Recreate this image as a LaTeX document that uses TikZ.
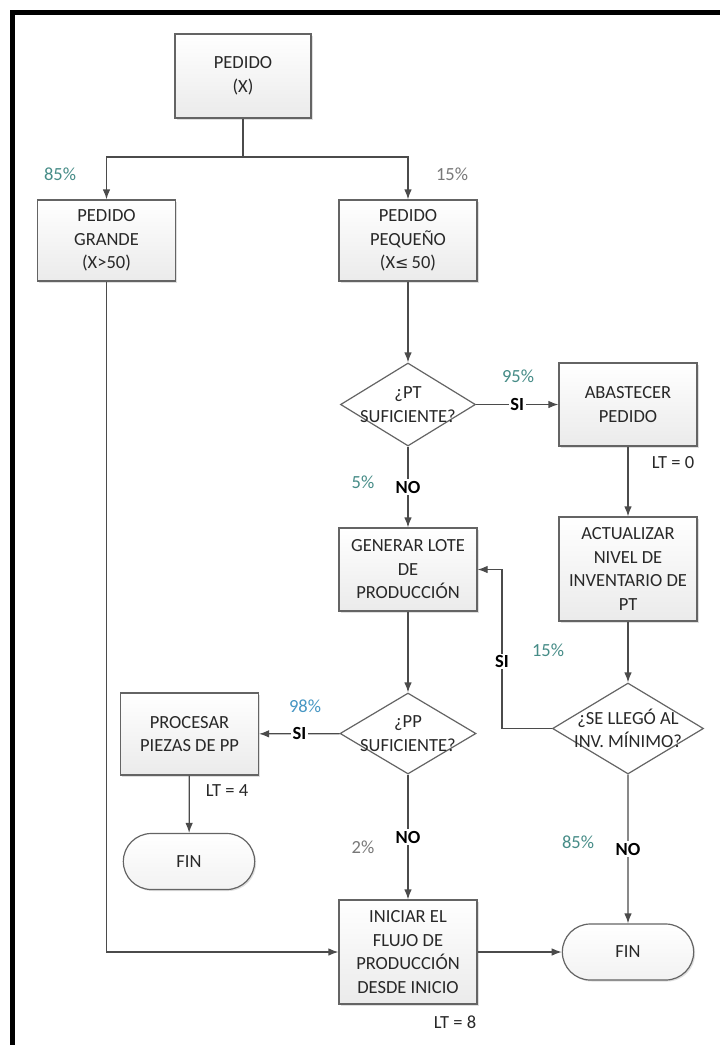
\documentclass[tikz,border=0pt]{standalone}
\usepackage{fontspec}
\setmainfont{Carlito}
\newfontfamily\symf{DejaVu Sans}
\usetikzlibrary{shapes.geometric,shapes.misc,arrows.meta,shadows}
\definecolor{ln}{RGB}{75,75,75}
\definecolor{bd}{RGB}{100,100,100}
\definecolor{tx}{RGB}{40,40,40}
\definecolor{pct}{RGB}{70,140,135}
\definecolor{pctg}{RGB}{120,120,120}
\definecolor{pctb}{RGB}{70,150,195}
\newcommand{\mfont}{\fontsize{18.5}{23.5}\selectfont}
\begin{document}
\begin{tikzpicture}[x=1pt,y=-1pt,
  box/.style={draw=bd, line width=1.2pt, top color=white, bottom color=gray!16,
    minimum width=138, minimum height=83, align=center, text=tx, font=\mfont,
    inner sep=2pt, drop shadow={shadow xshift=1.5pt, shadow yshift=-1.5pt, opacity=0.25}},
  dia/.style={diamond, draw=bd, line width=1.2pt, fill=white, inner sep=0pt},
  dtxt/.style={align=center, text=tx, font=\mfont, inner sep=0pt},
  term/.style={rounded rectangle, draw=bd, line width=1.2pt, top color=white, bottom color=gray!10,
    minimum width=138, minimum height=56, text=tx, font=\mfont,
    drop shadow={shadow xshift=1.5pt, shadow yshift=-1.5pt, opacity=0.25}},
  con/.style={draw=ln, line width=1.2pt},
  arr/.style={draw=ln, line width=1.2pt, -{Latex[length=10pt,width=7.5pt]}},
  lbl/.style={font=\mfont\bfseries, fill=white, inner sep=1.5pt, text=black},
  pctl/.style={font=\mfont, inner sep=0pt},
  ltl/.style={font=\mfont, text=tx, inner sep=0pt}]
\useasboundingbox (0,0) rectangle (720,1045);
\fill[white] (0,0) rectangle (720,1045);
\draw[line width=5pt, black] (12.5,1045) -- (12.5,12.5) -- (720,12.5);

% nodes
\node[box, minimum width=136, minimum height=84] (pedido) at (243,76) {PEDIDO\\(X)};
\node[box, minimum height=81] (grande) at (106.5,240.5) {PEDIDO\\GRANDE\\(X>50)};
\node[box, minimum height=81] (peq) at (408,240.5) {PEDIDO\\PEQUEÑO\\(X{\symf\fontsize{16}{22}\selectfont ≤}\,50)};
\node[dia, minimum width=135, minimum height=83] (ptd) at (408,404.5) {};
\node[dtxt] (ptdT) at (ptd) {¿PT\\SUFICIENTE?};
\node[box] (abast) at (628,404.5) {ABASTECER\\PEDIDO};
\node[box, minimum height=104] (act) at (628,569) {ACTUALIZAR\\NIVEL DE\\INVENTARIO DE\\PT};
\node[box] (gen) at (408,569.5) {GENERAR LOTE\\DE\\PRODUCCIÓN};
\node[dia, minimum width=136, minimum height=81] (ppd) at (408,733.5) {};
\node[dtxt] (ppdT) at (ppd) {¿PP\\SUFICIENTE?};
\node[box, minimum height=82] (proc) at (189.5,734) {PROCESAR\\PIEZAS DE PP};
\node[dia, minimum width=151, minimum height=91] (inv) at (628,728.5) {};
\node[dtxt] (invT) at (inv) {¿SE LLEGÓ AL\\INV. MÍNIMO?};
\node[term] (finL) at (189,861.5) {FIN};
\node[box, minimum height=104] (ini) at (408,952) {INICIAR EL\\FLUJO DE\\PRODUCCIÓN\\DESDE INICIO};
\node[term] (finR) at (628,952) {FIN};

% connectors
\coordinate (j) at (243,157);
\draw[con] (pedido) -- (j);
\draw[arr] (j) -| (grande);
\draw[arr] (j) -| (peq);
\draw[arr] (peq) -- (ptd);
\draw[arr] (ptd) -- node[lbl] (si1) {SI} (abast);
\draw[arr] (ptd) -- node[lbl] (no1) {NO} (gen);
\draw[arr] (abast) -- (act);
\draw[arr] (act) -- (inv);
\coordinate (r) at (502,728.5);
\draw[arr] (inv.west) -- (r) |- node[lbl, pos=0.21] (si2) {SI} (gen.east);
\draw[arr] (inv) -- node[lbl] (no2) {NO} (finR);
\draw[arr] (gen) -- (ppd);
\draw[arr] (ppd) -- node[lbl] (si3) {SI} (proc);
\draw[arr] (ppd) -- node[lbl] (no3) {NO} (ini);
\draw[arr] (proc) -- (finL);
\draw[arr] (grande) |- (ini);
\draw[arr] (ini) -- (finR);

% percentages and lead times
\node[pctl, text=pct] (p85a) at (60,174) {85\%};
\node[pctl, text=pctg] (p15a) at (452,174) {15\%};
\node[pctl, text=pct] (p95) at (518,376) {95\%};
\node[pctl, text=pct] (p5) at (363,482) {5\%};
\node[pctl, text=pct] (p15b) at (548,650) {15\%};
\node[pctl, text=pctb] (p98) at (305,706) {98\%};
\node[pctl, text=pctg] (p2) at (363,847) {2\%};
\node[pctl, text=pct] (p85b) at (578,842) {85\%};
\node[ltl] (lt0) at (673,463) {LT = 0};
\node[ltl] (lt4) at (227,791) {LT = 4};
\node[ltl] (lt8) at (455,1022) {LT = 8};
\end{tikzpicture}
\end{document}
